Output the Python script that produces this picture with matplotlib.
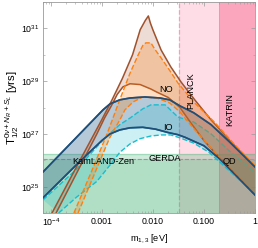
import matplotlib
matplotlib.use("Agg")
import matplotlib.pyplot as plt
import numpy as np

plt.rcParams['font.family'] = ['Liberation Sans', 'DejaVu Sans']
plt.rcParams['mathtext.fontset'] = 'custom'
plt.rcParams['mathtext.rm'] = 'Liberation Sans'
plt.rcParams['mathtext.it'] = 'Liberation Sans:italic'

# limits
gerda_lim = 1.8e26
kamland_lim = 1.07e26
planck_m = 0.033
katrin_m = 0.197

# NO, 3 sigma band (solid brown)  -- log10(m), log10(T)
no_hi_lm = [-3.98, -3.5, -3.0, -2.8, -2.6, -2.4, -2.25, -2.15, -2.09, -2.05, -2.0, -1.84, -1.65, -1.45, -1.18, -0.86, -0.5, 0.0]
no_hi_lt = [24.0, 25.75, 27.55, 28.3, 29.1, 30.0, 30.95, 31.3, 31.47, 31.2, 30.94, 30.18, 29.54, 28.97, 28.29, 27.53, 26.76, 25.76]
no_lo_lm = [-3.90, -3.5, -3.1, -2.95, -2.82, -2.70, -2.59, -2.45, -2.25, -2.04, -1.92, -1.70, -1.47, -1.25, -1.0, -0.69, -0.35, 0.0]
no_lo_lt = [24.0, 25.5, 27.0, 27.6, 28.05, 28.5, 28.78, 28.9, 28.87, 28.7, 28.58, 28.38, 28.0, 27.4, 26.75, 26.09, 25.39, 24.69]

# NO, best fit band (dashed orange)
nob_hi_lm = [-3.55, -3.2, -2.9, -2.65, -2.45, -2.3, -2.2, -2.14, -2.04, -1.96, -1.84, -1.67, -1.51, -1.18, -0.78, -0.4, 0.0]
nob_hi_lt = [24.0, 25.6, 27.0, 28.3, 29.3, 29.95, 30.35, 30.45, 30.45, 30.2, 29.88, 29.4, 28.93, 28.17, 27.42, 26.6, 25.8]
nob_lo_lm = [-3.47, -3.1, -2.85, -2.65, -2.55, -2.39, -2.2, -1.92, -1.67, -1.47, -1.2, -0.9, -0.6, -0.3, 0.0]
nob_lo_lt = [24.0, 25.7, 26.85, 27.53, 27.91, 28.21, 28.40, 28.36, 28.17, 27.83, 27.2, 26.55, 25.9, 25.3, 24.69]

# IO, 3 sigma band (solid navy)
io_hi_lm = [-4.155, -3.6, -2.98, -2.84, -2.65, -2.45, -2.16, -1.86, -1.67, -1.47, -1.2, -0.86, -0.5, 0.0]
io_hi_lt = [25.56, 26.67, 27.91, 28.14, 28.29, 28.36, 28.40, 28.36, 28.29, 28.06, 27.8, 27.35, 26.7, 25.75]
io_lo_lm = [-4.155, -3.5, -3.0, -2.84, -2.65, -2.45, -2.2, -1.95, -1.7, -1.51, -1.37, -1.0, -0.69, -0.35, 0.0]
io_lo_lt = [24.58, 25.83, 26.75, 27.0, 27.15, 27.23, 27.25, 27.18, 27.05, 26.97, 26.87, 26.55, 26.05, 25.38, 24.69]

# IO, best fit band (dashed cyan)
iob_hi_lm = [-4.155, -3.51, -2.92, -2.65, -2.45, -2.2, -2.04, -1.76, -1.51, -1.2, -0.86, -0.5, 0.0]
iob_hi_lt = [24.5, 25.64, 26.89, 27.35, 27.6, 27.95, 28.1, 28.1, 27.64, 27.45, 27.0, 26.35, 25.55]
iob_lo_lm = [-3.85, -3.5, -3.1, -2.85, -2.65, -2.45, -2.25, -2.04, -1.84, -1.65, -1.47, -1.2, -0.9, -0.5, 0.0]
iob_lo_lt = [24.0, 24.6, 25.2, 25.8, 26.3, 26.62, 26.82, 26.92, 26.96, 26.96, 26.85, 26.65, 26.3, 25.6, 24.72]

xticks = [1e-4, 1e-3, 1e-2, 1e-1, 1]
xticklabels = ['$10^{-4}$', '0.001', '0.010', '0.100', '1']
yticks = [1e25, 1e27, 1e29, 1e31]
yticklabels = ['$10^{25}$', '$10^{27}$', '$10^{29}$', '$10^{31}$']

C_NO = '#a0522d'
C_NOB = '#ff7f0e'
C_IO = '#1f4e79'
C_IOB = '#17becf'


def pts(lm, lt):
    return 10 ** np.array(lm), 10 ** np.array(lt)


def band(ax, hi, lo, color, alpha, ls, lw, z):
    xh, yh = pts(*hi)
    xl, yl = pts(*lo)
    ax.fill(np.r_[xh, xl[::-1]], np.r_[yh, yl[::-1]], color=color, alpha=alpha, lw=0, zorder=z)
    ax.plot(xh, yh, color=color, ls=ls, lw=lw, zorder=z + 1)
    ax.plot(xl, yl, color=color, ls=ls, lw=lw, zorder=z + 1)


fig = plt.figure(figsize=(2.58, 2.48), dpi=100)
ax = fig.add_axes([0.167, 0.141, 0.821, 0.851])
ax.set_xscale('log')
ax.set_yscale('log')
xmin, xmax = 7e-5, 1.0
ymin, ymax = 1e24, 1e32
ax.set_xlim(xmin, xmax)
ax.set_ylim(ymin, ymax)

# cosmology / KATRIN
ax.axvspan(planck_m, katrin_m, color='#ffdde6', lw=0, zorder=0)
ax.axvspan(katrin_m, xmax, color='#fba6bd', lw=0, zorder=0)
ax.axvline(planck_m, color='#f4a0bb', ls='--', lw=0.9, zorder=0.5)
ax.axvline(katrin_m, color='#f58fab', lw=0.6, zorder=0.5)

# 0vbb experimental limits
ax.axhspan(ymin, gerda_lim, color='#3cb371', alpha=0.25, lw=0, zorder=1)
ax.axhline(gerda_lim, color='#3cb371', alpha=0.3, lw=1.0, zorder=1)
ax.axhspan(ymin, kamland_lim, color='#3cb371', alpha=0.2, lw=0, zorder=1)
ax.axhline(kamland_lim, color='#999999', ls='--', lw=0.8, zorder=1.1)

band(ax, (io_hi_lm, io_hi_lt), (io_lo_lm, io_lo_lt), '#2f6690', 0.35, '-', 1.2, 2)
band(ax, (iob_hi_lm, iob_hi_lt), (iob_lo_lm, iob_lo_lt), C_IOB, 0.22, '--', 1.0, 3)
band(ax, (no_hi_lm, no_hi_lt), (no_lo_lm, no_lo_lt), C_NO, 0.2, '-', 1.1, 4)
band(ax, (nob_hi_lm, nob_hi_lt), (nob_lo_lm, nob_lo_lt), C_NOB, 0.25, '--', 1.0, 5)
# darker navy edges
for lm, lt in [(io_hi_lm, io_hi_lt), (io_lo_lm, io_lo_lt)]:
    ax.plot(*pts(lm, lt), color=C_IO, lw=1.2, zorder=6)

fs = 6.6
ax.text(10 ** -1.744, 10 ** 28.70, 'NO', fontsize=fs, ha='center', va='center', zorder=8)
ax.text(10 ** -1.705, 10 ** 27.25, 'IO', fontsize=fs, ha='center', va='center', zorder=8)
ax.text(10 ** -1.254, 10 ** 28.63, 'PLANCK', fontsize=fs, rotation=90, ha='center', va='center', zorder=8)
ax.text(10 ** -0.49, 10 ** 27.91, 'KATRIN', fontsize=fs, rotation=90, ha='center', va='center', zorder=8)
ax.text(10 ** -1.764, 10 ** 26.05, 'GERDA', fontsize=fs, ha='center', va='center', zorder=8)
ax.text(10 ** -2.979, 10 ** 25.94, 'KamLAND-Zen', fontsize=fs, ha='center', va='center', zorder=8)
ax.text(10 ** -0.49, 10 ** 25.94, 'QD', fontsize=fs, ha='center', va='center', zorder=8)

ax.set_xticks(xticks)
ax.set_xticklabels(xticklabels)
ax.set_yticks(yticks)
ax.set_yticklabels(yticklabels)
ax.tick_params(which='both', direction='in', top=True, right=True, colors='#999999',
               labelcolor='black', labelsize=6.3, pad=2.5)
ax.tick_params(which='major', length=3, width=0.5)
ax.tick_params(which='minor', length=1.5, width=0.4)
ax.xaxis.set_minor_locator(matplotlib.ticker.LogLocator(base=10, subs=np.arange(2, 10)))
ax.yaxis.set_minor_locator(matplotlib.ticker.LogLocator(base=10, subs=[1.0], numticks=20))
ax.xaxis.set_minor_formatter(matplotlib.ticker.NullFormatter())
ax.yaxis.set_minor_formatter(matplotlib.ticker.NullFormatter())
for s in ax.spines.values():
    s.set_color('#999999')
    s.set_linewidth(0.6)

ax.set_xlabel('m$_{1,3}$ [eV]', fontsize=6.6, labelpad=3)
ax.set_ylabel(r'T$_{1/2}^{0\nu+N_R+S_L}$ [yrs]', fontsize=8.2, labelpad=0)

fig.savefig('out.png', dpi=100)
